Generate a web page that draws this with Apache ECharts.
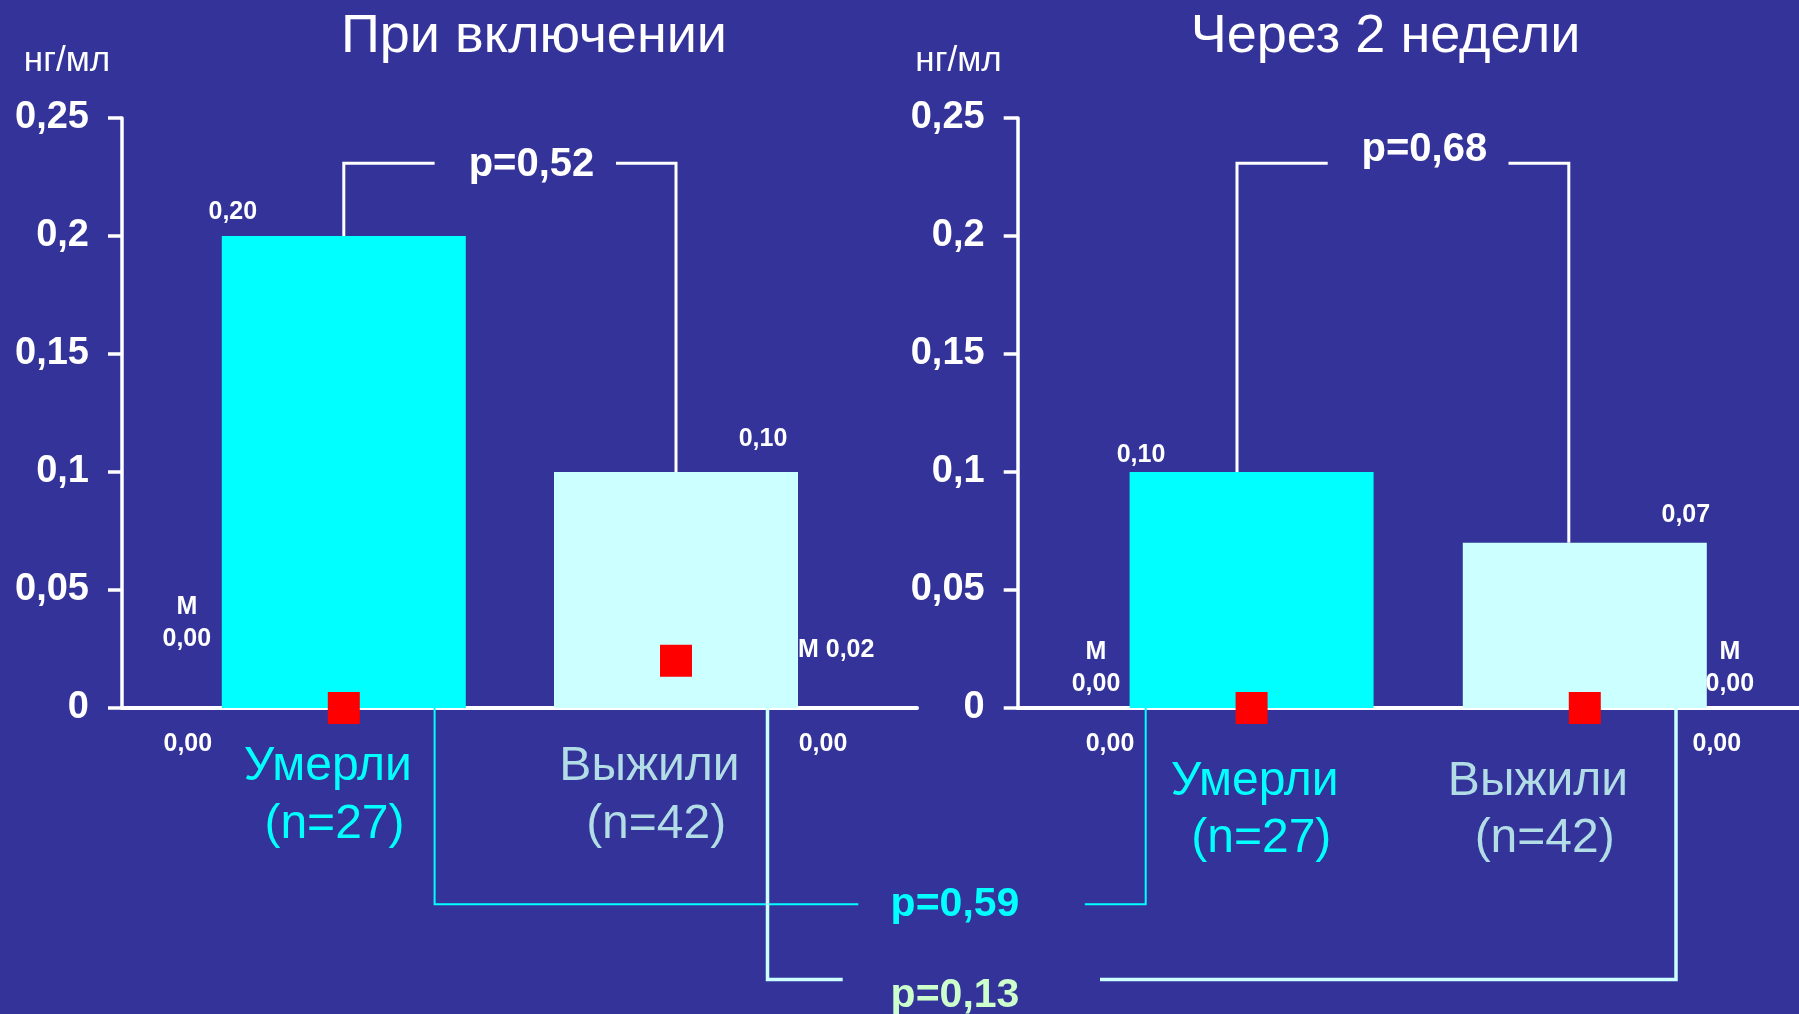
<!DOCTYPE html>
<html>
<head>
<meta charset="utf-8">
<script src="https://cdn.jsdelivr.net/npm/echarts@6/dist/echarts.min.js"></script>
<style>
  html, body { margin: 0; padding: 0; background: #333399; }
  #chart { width: 1799px; height: 1014px; }
</style>
</head>
<body>
<div id="chart"></div>
<script>
// ---- data ----
const groups = ['Умерли', 'Выжили'];
const groupSizes = [27, 42];
const panelTitles = ['При включении', 'Через 2 недели'];
const unitLabel = 'нг/мл';
const yTicks = [0, 0.05, 0.1, 0.15, 0.2, 0.25];

const meanAdmission = [0.20, 0.10];
const meanWeek2 = [0.10, 0.07];
const medianAdmission = [0.00, 0.02];
const medianWeek2 = [0.00, 0.00];
const lowerAdmission = [0.00, 0.00];
const lowerWeek2 = [0.00, 0.00];

const pWithinPanel = [0.52, 0.68];   // Умерли vs Выжили in each period
const pDiedAcross = 0.59;            // Умерли: admission vs 2 weeks
const pSurvivedAcross = 0.13;        // Выжили: admission vs 2 weeks

// ---- helpers ----
const FONT = 'Liberation Sans, Arial, Helvetica, sans-serif';
const fmt = (v, d) => (d == null ? String(+v.toFixed(2)) : v.toFixed(d)).replace('.', ',');
const BG = '#333399';
const CYAN = '#00FFFF';
const LIGHT = '#CCFFFF';
const GREY_CYAN = '#B2DCE6';
const GREEN = '#CCFFCC';
const barColors = [CYAN, LIGHT];
const labelColors = [CYAN, GREY_CYAN];

const yMax = yTicks[yTicks.length - 1];
const yStep = yTicks[1] - yTicks[0];

const panels = [
  {
    title: panelTitles[0], means: meanAdmission, medians: medianAdmission, lows: lowerAdmission, p: pWithinPanel[0],
    frame: { left: 122, width: 795 }, bars: { left: 177.7, width: 664.4 },
    titleX: 534, unitX: 67,
    meanOff: [[-111, -27], [87, -36]],
    medOff: [{ dx: -157, dy: -88, align: 'center', twoLine: true }, { dx: 122, dy: -13.5, align: 'left', twoLine: false }],
    lowOff: [-156, 147],
    catOff: [[-16, 85], [-26.5, 85]],
    bracket: { y: 163.3, x0: 0, x1: 0, gapL: 434.6, gapR: 616, textX: 531.5, textY: 162 }
  },
  {
    title: panelTitles[1], means: meanWeek2, medians: medianWeek2, lows: lowerWeek2, p: pWithinPanel[1],
    frame: { left: 1017.7, width: 781.3 }, bars: { left: 1085, width: 666.4 },
    titleX: 1385.6, unitX: 958.5,
    meanOff: [[-110.6, -20], [101, -31]],
    medOff: [{ dx: -155.6, dy: -43, align: 'center', twoLine: true }, { dx: 145, dy: -43, align: 'center', twoLine: true }],
    lowOff: [-141.6, 132],
    catOff: [[3, 99.5], [-46.8, 99.5]],
    bracket: { y: 163.3, x0: -14.6, x1: -16, gapL: 1327.7, gapR: 1508.5, textX: 1424.3, textY: 147 }
  }
];

const TOP = 118, HEIGHT = 590;

const grid = [], xAxis = [], yAxis = [], series = [];
panels.forEach((pn, i) => {
  // frame grid: visible y axis and baseline
  grid.push({ left: pn.frame.left, top: TOP, width: pn.frame.width, height: HEIGHT });
  // bar grid: places the two groups
  grid.push({ left: pn.bars.left, top: TOP, width: pn.bars.width, height: HEIGHT });

  xAxis.push({
    gridIndex: 2 * i, type: 'value', min: 0, max: 1,
    axisLine: { show: true, lineStyle: { color: '#FFFFFF', width: 4 } },
    axisTick: { show: false }, axisLabel: { show: false }, splitLine: { show: false }
  });
  xAxis.push({
    gridIndex: 2 * i + 1, type: 'category', data: groups, show: false
  });
  yAxis.push({
    gridIndex: 2 * i, type: 'value', min: 0, max: yMax, interval: yStep,
    axisLine: { show: true, lineStyle: { color: '#FFFFFF', width: 3.5 } },
    axisTick: { show: true, inside: false, length: 14, lineStyle: { color: '#FFFFFF', width: 3.5 } },
    axisLabel: {
      color: '#FFFFFF', fontFamily: FONT, fontWeight: 'bold', fontSize: 38, margin: 33,
      padding: [7, 0, 0, 0],
      formatter: v => fmt(v)
    },
    splitLine: { show: false }
  });
  yAxis.push({ gridIndex: 2 * i + 1, type: 'value', min: 0, max: yMax, show: false });

  series.push({
    type: 'bar', xAxisIndex: 2 * i + 1, yAxisIndex: 2 * i + 1,
    barWidth: 244, z: 2,
    data: pn.means.map((v, k) => ({ value: v, itemStyle: { color: barColors[k] } })),
    silent: true
  });
  series.push({
    type: 'scatter', xAxisIndex: 2 * i + 1, yAxisIndex: 2 * i + 1,
    symbol: 'rect', symbolSize: 32, z: 5,
    itemStyle: { color: '#FF0000', opacity: 1 },
    data: pn.medians.map((v, k) => [k, v]),
    silent: true
  });
});

const chart = echarts.init(document.getElementById('chart'), null, { renderer: 'canvas' });
chart.setOption({
  backgroundColor: BG,
  animation: false,
  textStyle: { fontFamily: FONT },
  grid, xAxis, yAxis, series
});

// ---- annotations anchored to the bars ----
const px = (i, cat, val) => chart.convertToPixel({ gridIndex: 2 * i + 1 }, [cat, val]);
const g = [];
const TEXT_DY = 3;
const txt = (x, y, text, o) => g.push({
  type: 'text', x, y: y + TEXT_DY, z: 100, silent: true,
  style: Object.assign({
    text, fill: '#FFFFFF', fontFamily: FONT, fontSize: 25, fontWeight: 'bold',
    align: 'center', verticalAlign: 'middle'
  }, o || {})
});
const line = (points, stroke, w) => g.push({
  type: 'polyline', z: 90, silent: true,
  shape: { points }, style: { stroke, lineWidth: w, fill: null }
});

panels.forEach((pn, i) => {
  txt(pn.titleX, 34, pn.title, { fontSize: 54, fontWeight: 'normal' });
  txt(pn.unitX, 58, unitLabel, { fontSize: 35, fontWeight: 'normal' });

  groups.forEach((name, k) => {
    const top = px(i, k, pn.means[k]);
    const base = px(i, k, 0);
    const med = px(i, k, pn.medians[k]);
    // mean value above the bar
    txt(top[0] + pn.meanOff[k][0], top[1] + pn.meanOff[k][1], fmt(pn.means[k], 2));
    // median
    const mo = pn.medOff[k];
    const medText = mo.twoLine ? 'M\n' + fmt(pn.medians[k], 2) : 'M ' + fmt(pn.medians[k], 2);
    txt(med[0] + mo.dx, med[1] + mo.dy, medText, { align: mo.align, lineHeight: 32 });
    // lower value below baseline
    txt(base[0] + pn.lowOff[k], base[1] + 33, fmt(pn.lows[k], 2));
    // group caption
    txt(base[0] + pn.catOff[k][0], base[1] + pn.catOff[k][1],
      name + '\n (n=' + groupSizes[k] + ')',
      { fontSize: 48, fontWeight: 'normal', fill: labelColors[k], lineHeight: 57.5 });
  });

  // bracket between the two groups
  const b = pn.bracket;
  const t0 = px(i, 0, pn.means[0]);
  const t1 = px(i, 1, pn.means[1]);
  const xa = t0[0] + b.x0, xb = t1[0] + b.x1;
  line([[xa, t0[1]], [xa, b.y], [b.gapL, b.y]], '#FFFFFF', 3);
  line([[b.gapR, b.y], [xb, b.y], [xb, t1[1]]], '#FFFFFF', 3);
  txt(b.textX, b.textY, 'p=' + fmt(pn.p, 2), { fontSize: 40 });
});

// brackets linking the same group across the two periods
{
  const l0 = px(0, 0, 0), r0 = px(1, 0, 0);
  const y = 904.3;
  line([[l0[0] + 90.8, l0[1]], [l0[0] + 90.8, y], [858.3, y]], CYAN, 2);
  line([[1084.8, y], [r0[0] - 105.9, y], [r0[0] - 105.9, r0[1]]], CYAN, 2);
  txt(955, 902, 'p=' + fmt(pDiedAcross, 2), { fontSize: 41, fill: CYAN });

  const l1 = px(0, 1, 0), r1 = px(1, 1, 0);
  const y2 = 979.5;
  line([[l1[0] + 91.5, l1[1]], [l1[0] + 91.5, y2], [842.7, y2]], LIGHT, 3.5);
  line([[1100, y2], [r1[0] + 91.2, y2], [r1[0] + 91.2, r1[1]]], LIGHT, 3.5);
  txt(955, 993, 'p=' + fmt(pSurvivedAcross, 2), { fontSize: 41, fill: GREEN });
}

chart.setOption({ graphic: { elements: g } });
</script>
</body>
</html>
